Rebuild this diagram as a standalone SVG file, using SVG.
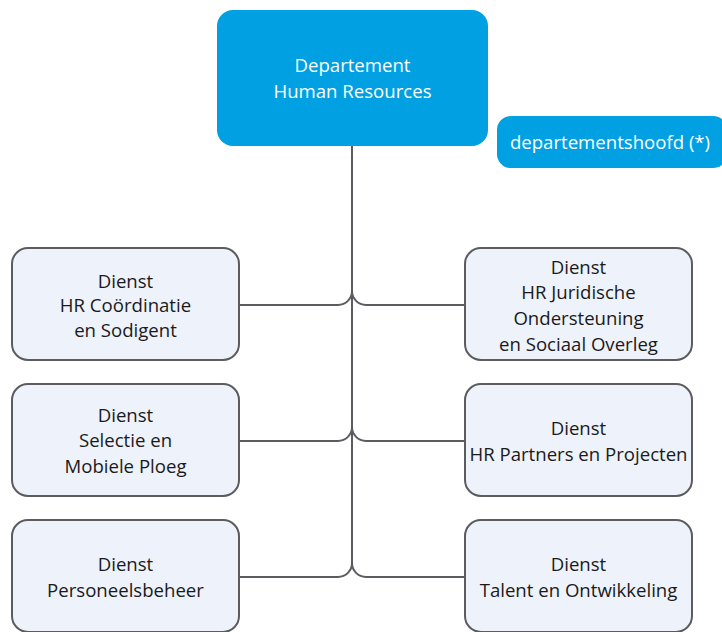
<svg xmlns="http://www.w3.org/2000/svg" width="722" height="632" viewBox="0 0 722 632">
<style>
.blue{fill:#00a0e3}
.box{fill:#eef2fb;stroke:#5b5b60;stroke-width:2}
.conn{fill:none;stroke:#5b5b60;stroke-width:2}
text{font-family:"Open Sans","Liberation Sans",Arial,sans-serif;font-size:18.6px;text-anchor:middle}
.w{fill:#ffffff}
.d{fill:#1a1a1a}
</style>
<rect width="722" height="632" fill="#ffffff"/>
<g id="connectors">
<path class="conn" d="M352 146 V563"/>
<path class="conn" d="M239 305 H338 A14 14 0 0 0 352 291 A14 14 0 0 0 366 305 H465"/>
<path class="conn" d="M239 441 H338 A14 14 0 0 0 352 427 A14 14 0 0 0 366 441 H465"/>
<path class="conn" d="M239 577 H338 A14 14 0 0 0 352 563 A14 14 0 0 0 366 577 H465"/>
</g>
<g id="dept">
<rect class="blue" x="217" y="10" width="271" height="136" rx="16"/>
<text class="w" x="352.5" y="72">Departement</text>
<text class="w" x="352.5" y="98">Human Resources</text>
</g>
<g id="hoofd">
<rect class="blue" x="497" y="116" width="230" height="52" rx="14"/>
<text class="w" x="610" y="149">departementshoofd (*)</text>
</g>
<g id="coordinatie">
<rect class="box" x="12" y="248" width="227" height="112" rx="16"/>
<text class="d" x="125.5" y="288">Dienst</text>
<text class="d" x="125.5" y="312">HR Coördinatie</text>
<text class="d" x="125.5" y="337">en Sodigent</text>
</g>
<g id="juridische">
<rect class="box" x="465" y="248" width="227" height="112" rx="16"/>
<text class="d" x="578.5" y="274">Dienst</text>
<text class="d" x="578.5" y="299">HR Juridische</text>
<text class="d" x="578.5" y="325">Ondersteuning</text>
<text class="d" x="578.5" y="351">en Sociaal Overleg</text>
</g>
<g id="selectie">
<rect class="box" x="12" y="384" width="227" height="112" rx="16"/>
<text class="d" x="125.5" y="422">Dienst</text>
<text class="d" x="125.5" y="447">Selectie en</text>
<text class="d" x="125.5" y="473">Mobiele Ploeg</text>
</g>
<g id="partners">
<rect class="box" x="465" y="384" width="227" height="112" rx="16"/>
<text class="d" x="578.5" y="435">Dienst</text>
<text class="d" x="578.5" y="461">HR Partners en Projecten</text>
</g>
<g id="personeelsbeheer">
<rect class="box" x="12" y="520" width="227" height="112" rx="16"/>
<text class="d" x="125.5" y="571">Dienst</text>
<text class="d" x="125.5" y="597">Personeelsbeheer</text>
</g>
<g id="talent">
<rect class="box" x="465" y="520" width="227" height="112" rx="16"/>
<text class="d" x="578.5" y="571">Dienst</text>
<text class="d" x="578.5" y="597">Talent en Ontwikkeling</text>
</g>
</svg>
